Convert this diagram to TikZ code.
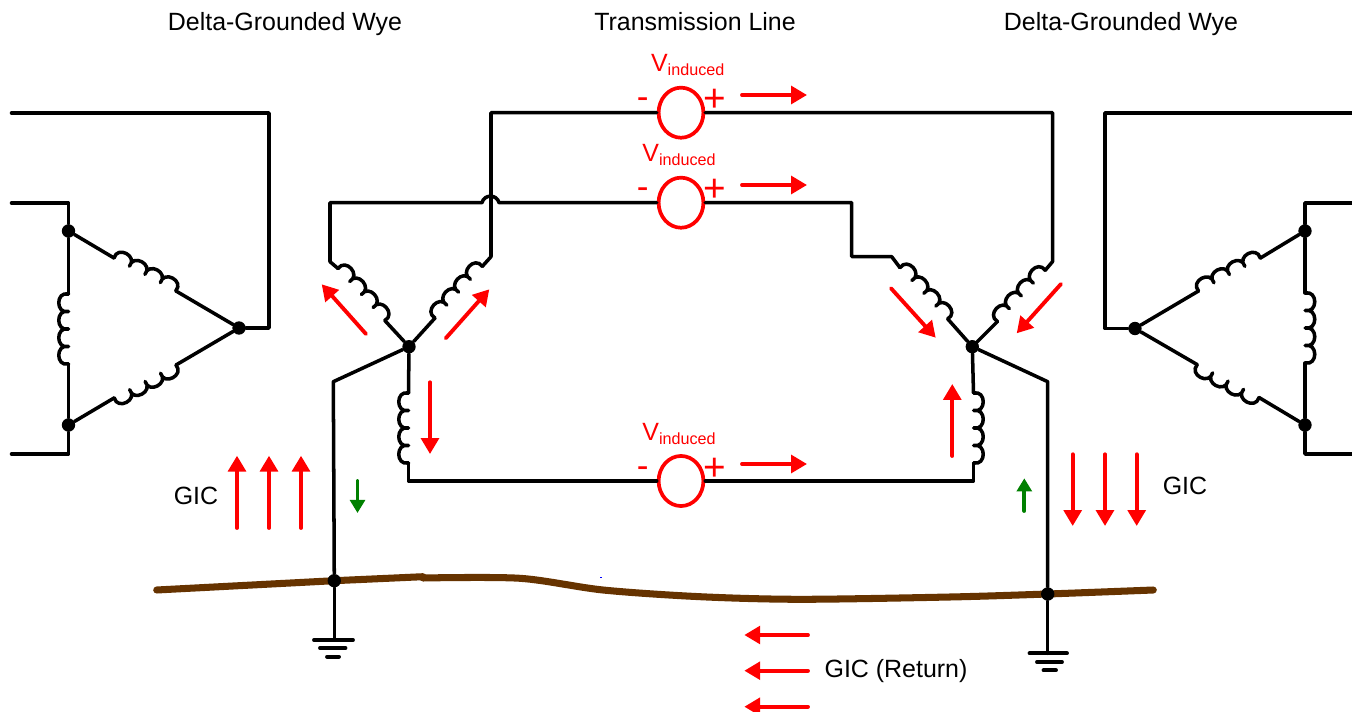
\documentclass[tikz,border=0pt]{standalone}
\usepackage{fontspec}
\setmainfont{Liberation Sans}
\usepackage{tikz}
\usetikzlibrary{arrows.meta,shapes.geometric}

\newcommand{\vind}{V{\fontsize{9.2}{10}\selectfont\raisebox{-2.3pt}{induced}}}

\tikzset{
    wire/.style={line width=2pt,line cap=round,line join=round},
    dot/.style={circle,fill=black,inner sep=0pt,minimum size=7.6pt},
    source/.style={ellipse,draw=red,line width=2.1pt,inner sep=0pt,minimum width=25.5pt,minimum height=28.5pt},
    lbl/.style={font=\fontsize{14.2}{16}\selectfont,inner sep=0pt},
    titlelbl/.style={lbl,anchor=base},
    redlbl/.style={lbl,text=red,anchor=base west},
    plussign/.style={font=\fontsize{22}{24}\selectfont,text=red,inner sep=0pt},
    minussign/.style={font=\fontsize{20}{22}\selectfont,text=red,inner sep=0pt},
    gic/.style={draw=red,line width=2.2pt,line cap=round,-{Triangle[length=9pt,width=10pt]}},
    loopgic/.style={draw=green!50!black,line width=2.2pt,line cap=round,-{Triangle[length=7.5pt,width=8.5pt]}},
    earth/.style={line width=2.2pt,line cap=round},
    pics/coil/.style={code={
        \draw[wire] (0,0) .. controls (-3,13) and (20.5,13) .. (17.5,0)
            .. controls (14.5,13) and (38,13) .. (35,0)
            .. controls (32,13) and (55.5,13) .. (52.5,0)
            .. controls (49.5,13) and (73,13) .. (70,0);
    }}
}
\definecolor{soil}{HTML}{663300}

\begin{document}
\begin{tikzpicture}[x=0.02cm,y=0.02cm]
    \useasboundingbox (0,-712) rectangle (1352,0);

    % titles
    \node[titlelbl] (titlea) at (285,-31) {Delta-Grounded Wye};
    \node[titlelbl] (titleb) at (695,-31) {Transmission Line};
    \node[titlelbl] (titlec) at (1121,-31) {Delta-Grounded Wye};

    % sources
    \node[source] (srca) at (681,-112.7) {};
    \node[source] (srcb) at (681,-202.7) {};
    \node[source] (srcc) at (681,-481) {};
    \node[redlbl] (vinda) at (650.7,-71.7) {\vind};
    \node[redlbl] (vindb) at (642,-161.7) {\vind};
    \node[redlbl] (vindc) at (642,-440.7) {\vind};
    \node[minussign] (minusa) at (642.7,-103) {-};
    \node[plussign] (plusa) at (715,-100.3) {+};
    \node[minussign] (minusb) at (642.7,-193) {-};
    \node[plussign] (plusb) at (715,-190.3) {+};
    \node[minussign] (minusc) at (642.7,-472) {-};
    \node[plussign] (plusc) at (715,-469) {+};

    % junctions
    \node[dot] (dlt) at (68.5,-231) {};
    \node[dot] (dlb) at (68.5,-425) {};
    \node[dot] (dlr) at (239,-328) {};
    \node[dot] (drt) at (1305,-231) {};
    \node[dot] (drb) at (1305,-425) {};
    \node[dot] (drl) at (1135,-328.5) {};
    \node[dot] (wyl) at (409,-346.7) {};
    \node[dot] (wyr) at (972.3,-346.7) {};

    % coil ends
    \coordinate (c1a) at (114,-258);
    \coordinate (c1b) at (175.8,-290.9);
    \coordinate (c2a) at (176,-365);
    \coordinate (c2b) at (114.2,-397.9);
    \coordinate (c3a) at (68.5,-364);
    \coordinate (c3b) at (68.5,-294);
    \coordinate (c4a) at (1198.5,-291);
    \coordinate (c4b) at (1260.3,-258.1);
    \coordinate (c5a) at (1259,-397.5);
    \coordinate (c5b) at (1197.2,-364.6);
    \coordinate (c6a) at (1305,-293);
    \coordinate (c6b) at (1305,-363);
    \coordinate (c7a) at (338,-268.5);
    \coordinate (c7b) at (384.8,-320.5);
    \coordinate (c8a) at (435,-318);
    \coordinate (c8b) at (482.3,-266.4);
    \coordinate (c9a) at (408.5,-463);
    \coordinate (c9b) at (408.5,-393);
    \coordinate (c10a) at (900,-267.7);
    \coordinate (c10b) at (947.7,-318.9);
    \coordinate (c11a) at (997.5,-321.5);
    \coordinate (c11b) at (1045.2,-270.3);
    \coordinate (c12a) at (973.5,-393);
    \coordinate (c12b) at (973.5,-463);

    \pic[rotate=-28] at (c1a) {coil};
    \pic[rotate=208] at (c2a) {coil};
    \pic[rotate=90] at (c3a) {coil};
    \pic[rotate=28] at (c4a) {coil};
    \pic[rotate=152] at (c5a) {coil};
    \pic[rotate=-90] at (c6a) {coil};
    \pic[rotate=-48] at (c7a) {coil};
    \pic[rotate=47.5] at (c8a) {coil};
    \pic[rotate=90] at (c9a) {coil};
    \pic[rotate=-47] at (c10a) {coil};
    \pic[rotate=47] at (c11a) {coil};
    \pic[rotate=-90] at (c12a) {coil};

    % left delta
    \coordinate (tla) at (11.5,-203);
    \coordinate (tlb) at (11.5,-454);
    \coordinate (tlc) at (11.5,-113);
    \draw[wire] (tla) -- (68.5,-203) -- (dlt) -- (c3b);
    \draw[wire] (tlb) -- (68.5,-454) -- (dlb) -- (c3a);
    \draw[wire] (tlc) -- (269,-113) -- (269,-328) -- (dlr);
    \draw[wire] (dlt) -- (c1a);
    \draw[wire] (c1b) -- (dlr);
    \draw[wire] (dlr) -- (c2a);
    \draw[wire] (c2b) -- (dlb);

    % right delta
    \coordinate (tra) at (1352,-203);
    \coordinate (trb) at (1352,-454);
    \coordinate (trc) at (1352,-113);
    \draw[wire] (tra) -- (1305,-203) -- (drt) -- (c6a);
    \draw[wire] (trb) -- (1305,-454) -- (drb) -- (c6b);
    \draw[wire] (trc) -- (1105,-113) -- (1105,-328.5) -- (drl);
    \draw[wire] (drl) -- (c4a);
    \draw[wire] (c4b) -- (drt);
    \draw[wire] (drb) -- (c5a);
    \draw[wire] (c5b) -- (drl);

    % left wye and line
    \draw[wire] (srcb) -- (499,-202.7) .. controls (497,-194) and (484,-194) .. (482,-202.7)
        -- (330,-202.7) -- (330,-261.7) -- (c7a);
    \draw[wire] (c7b) -- (wyl);
    \draw[wire] (wyl) -- (c8a);
    \draw[wire] (c8b) -- (491,-256.7) -- (491,-112.7) -- (srca);
    \draw[wire] (wyl) -- (c9b);
    \draw[wire] (c9a) -- (408.5,-481) -- (srcc);

    % right wye and line
    \draw[wire] (srca) -- (1052.5,-112.7) -- (1052.5,-261.7) -- (c11b);
    \draw[wire] (c11a) -- (wyr);
    \draw[wire] (srcb) -- (851.7,-202.7) -- (851.7,-256.7) -- (891.7,-256.7) -- (c10a);
    \draw[wire] (c10b) -- (wyr);
    \draw[wire] (wyr) -- (c12a);
    \draw[wire] (c12b) -- (973.5,-481) -- (srcc);

    % earth
    \coordinate (soila) at (156.7,-590);
    \coordinate (soilb) at (423,-576.7);
    \coordinate (soilc) at (423,-578);
    \coordinate (soild) at (1153.3,-590);
    \coordinate (soile) at (334.3,-580.7);
    \coordinate (soilf) at (1047.7,-594);
    \draw[soil,line width=4pt,line cap=round] (soila) -- (soile) -- (soilb);
    \draw[soil,line width=4pt,line cap=round] plot[smooth,tension=0.5] coordinates
        {(soilc) (520,-578.3) (603,-590) (700,-596.7) (800,-599.3) (950,-597) (soilf) (soild)};
    \fill[blue] (600,-578.2) rectangle (602.2,-576.6);
    \node[dot] (gndl) at (soile) {};
    \node[dot] (gndr) at (soilf) {};
    \draw[wire] (wyl) -- (333.3,-381.7) -- (gndl);
    \draw[wire] (wyr) -- (1047.7,-381.7) -- (gndr);

    % grounds
    \coordinate (gla) at (334.3,-640);
    \coordinate (gra) at (1047.7,-653.3);
    \draw[wire] (gndl) -- (gla);
    \draw[wire] (gndr) -- (gra);
    \draw[earth] (314,-640) -- (353,-640);
    \draw[earth] (320,-648) -- (345.5,-648);
    \draw[earth] (327,-656.7) -- (339,-656.7);
    \draw[earth] (1029.5,-653.3) -- (1067,-653.3);
    \draw[earth] (1037,-662) -- (1062,-662);
    \draw[earth] (1043.5,-670.3) -- (1056,-670.3);

    % currents
    \draw[gic] (742,-95) -- (807,-95);
    \draw[gic] (742,-185) -- (807,-185);
    \draw[gic] (742,-464) -- (807,-464);
    \draw[gic] (366,-334) -- (321.7,-284.3);
    \draw[gic] (445.7,-338.3) -- (489.3,-289.3);
    \draw[gic] (430,-382.3) -- (430,-454);
    \draw[gic] (891,-288.3) -- (935.7,-337.7);
    \draw[gic] (1061,-284) -- (1016.7,-333.3);
    \draw[gic] (952.3,-456) -- (952.3,-384);
    \draw[gic] (237,-528) -- (237,-455.7);
    \draw[gic] (269,-528) -- (269,-455.7);
    \draw[gic] (301,-528) -- (301,-455.7);
    \draw[gic] (1072.7,-454.3) -- (1072.7,-526);
    \draw[gic] (1105,-454.3) -- (1105,-526);
    \draw[gic] (1136.7,-454.3) -- (1136.7,-526);
    \draw[gic] (808,-635) -- (744.3,-635);
    \draw[gic] (808,-670.7) -- (744.3,-670.7);
    \draw[gic] (808,-706.7) -- (744.3,-706.7);
    \draw[loopgic] (357.5,-481) -- (357.5,-513);
    \draw[loopgic] (1024.3,-511) -- (1024.3,-478.3);

    \node[lbl] (gica) at (196,-496) {GIC};
    \node[lbl] (gicb) at (1185,-486) {GIC};
    \node[lbl] (gicc) at (896,-671) {GIC (Return)};

\end{tikzpicture}
\end{document}
